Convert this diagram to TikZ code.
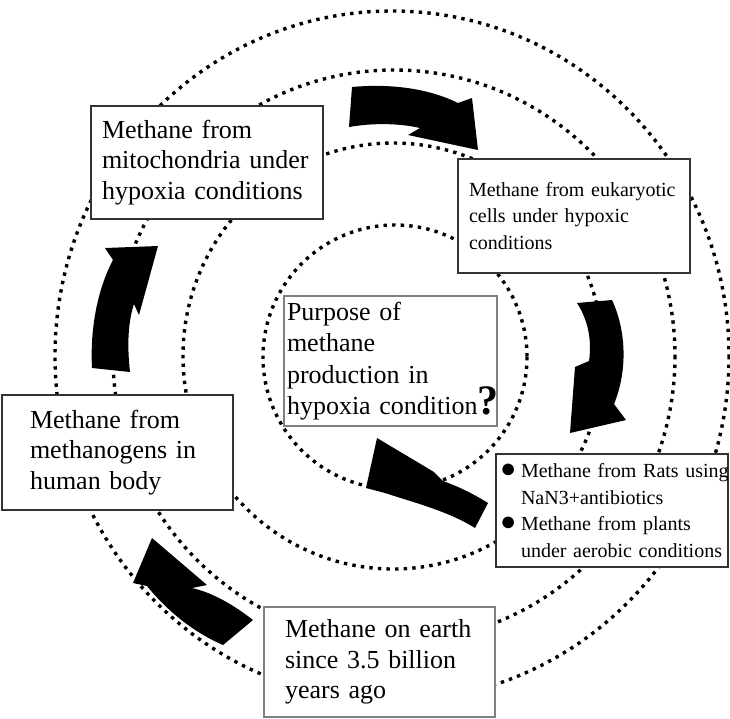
\documentclass[tikz,border=0pt]{standalone}
\usepackage{fontspec}
\setmainfont{Liberation Serif}

\newcommand{\ratbullet}{\hspace*{3pt}\makebox[21pt][l]{\smash{\fontsize{27}{27}\selectfont ●}}}

\begin{document}
\begin{tikzpicture}[x=1pt, y=-1pt,
		ring/.style={line width=3.4pt, dash pattern=on 3.4pt off 5.2pt},
		box/.style={draw=black!80, line width=1.6pt, fill=white, align=left,
			font=\fontsize{26}{30.5}\selectfont},
		greybox/.style={box, draw=black!50},
		smallbox/.style={box, font=\fontsize{20}{26.5}\selectfont},
		blockarrow/.style={fill=black}]
	\fill [white] (0,0) rectangle (730,718);
	\useasboundingbox (0,0) rectangle (730,718);

	% dotted rings
	\begin{scope}
		\draw [ring] (392,356) ellipse [x radius=337, y radius=345];
		\draw [ring] (394,356) ellipse [x radius=281, y radius=286];
		\draw [ring] (393,356) ellipse [x radius=210, y radius=213];
		\draw [ring] (395,357) circle (132);
	\end{scope}

	% curved block arrows
	\begin{scope}[blockarrow]
		\fill (352,87) .. controls (395,83) and (432,90) .. (458,103) -- (472,98) -- (478,150)
			-- (408,135) -- (420,128) .. controls (398,123) and (372,123) .. (349,127) -- cycle;
		\fill (577,303) -- (612,300) .. controls (626,330) and (628,370) .. (614,404) -- (626,420)
			-- (570,433) -- (575,367) -- (589,361) .. controls (592,340) and (588,320) .. (577,303) -- cycle;
		\fill (488,503) .. controls (472,493) and (457,486) .. (443,481) -- (434,472) -- (377,438)
			-- (366,488) -- (385,493) .. controls (412,502) and (448,511) .. (475,528) -- cycle;
		\fill (253,620) .. controls (235,606) and (214,593) .. (192,588) -- (207,585) -- (152,538)
			-- (133,583) -- (147,586) .. controls (168,612) and (195,633) .. (223,645) -- cycle;
		\fill (92,368) .. controls (90,330) and (97,290) .. (113,260) -- (105,248) -- (158,246)
			-- (139,315) -- (134,304) .. controls (128,322) and (127,345) .. (130,372) -- cycle;
	\end{scope}

	% text boxes
	\node [box, text width=210pt, inner xsep=11pt, minimum height=113pt] (mito) at (207,162.5)
		{Methane from\\mitochondria under\\hypoxia conditions};
	\node [smallbox, text width=210pt, inner xsep=11pt, minimum height=114pt] (euk) at (574,216)
		{Methane from eukaryotic\\cells under hypoxic\\conditions};
	\node [greybox, text width=207pt, inner xsep=3pt, minimum height=130pt,
		font=\fontsize{26}{31.5}\selectfont] (purpose) at (390.5,361)
		{Purpose of\\methane\\production in\\hypoxia condition\rlap{\smash{\fontsize{42}{42}\selectfont\bfseries ?}}};
	\node [box, text width=175pt, inner xsep=28pt, minimum height=115pt] (gut) at (117.5,452.5)
		{Methane from\\methanogens in\\human body};
	\node [smallbox, text width=230pt, inner xsep=1pt, minimum height=113pt] (rats) at (612,510.5)
		{\ratbullet\mbox{Methane from Rats using}\\
		\hspace*{24pt}\mbox{NaN3+antibiotics}\\
		\ratbullet\mbox{Methane from plants}\\
		\hspace*{24pt}\mbox{under aerobic conditions}};
	\node [greybox, text width=189pt, inner xsep=21pt, minimum height=110pt] (earth) at (379.5,662)
		{Methane on earth\\since 3.5 billion\\years ago};
\end{tikzpicture}
\end{document}
